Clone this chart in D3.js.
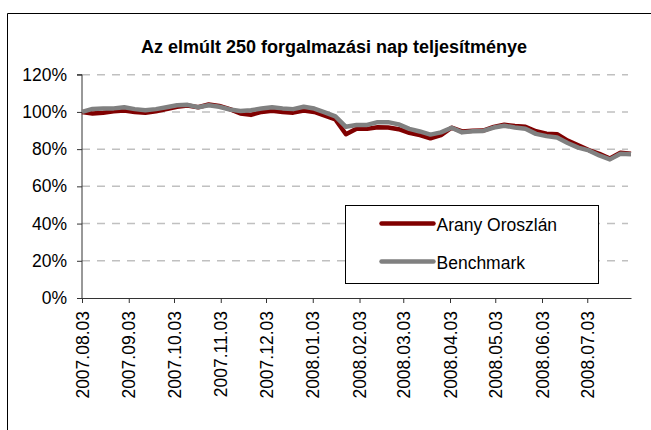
<!DOCTYPE html>
<html>
  <head>
    <meta charset="UTF-8">
    <title>Az elmúlt 250 forgalmazási nap teljesítménye</title>
    <script src="https://d3js.org/d3.v7.min.js"></script>
    <style>
      body { margin: 0; background: #fff; }
      text { font-family: "Liberation Sans", Arial, sans-serif; fill: #000; }
    </style>
  </head>

  <body>
    <div class="chart"></div>

    <script type="application/javascript">
      // weekly readings, first point on 2007.08.03
      const startDate = "2007-08-03";
      const arany = [100.0, 99.2, 99.6, 100.3, 100.8, 100.0, 99.6, 100.3, 101.5, 102.8,
                     103.4, 102.5, 104.0, 103.2, 101.5, 99.2, 98.4, 100.0, 100.6, 100.0,
                     99.6, 100.8, 100.0, 98.0, 96.0, 88.0, 90.9, 90.9, 91.8, 91.6,
                     90.7, 88.8, 87.5, 85.8, 87.5, 91.5, 89.5, 89.9, 90.0, 91.9,
                     93.1, 92.4, 92.0, 89.6, 88.3, 88.0, 84.6, 82.0, 79.5, 77.5,
                     75.0, 78.0, 77.5];
      const benchmark = [100.0, 101.6, 101.8, 101.9, 102.5, 101.5, 100.9, 101.5, 102.5, 103.6,
                         103.8, 102.5, 103.6, 102.8, 101.3, 100.5, 100.9, 101.8, 102.5, 101.9,
                         101.5, 102.8, 101.8, 99.8, 97.6, 92.0, 93.0, 93.0, 94.5, 94.5,
                         93.3, 90.9, 89.5, 87.8, 89.0, 91.5, 89.0, 89.6, 89.8, 91.6,
                         92.6, 91.6, 91.0, 88.2, 87.0, 86.2, 83.3, 80.8, 79.3, 76.6,
                         74.5, 77.5, 77.3];
      const tickLabels = ["2007.08.03", "2007.09.03", "2007.10.03", "2007.11.03", "2007.12.03",
                          "2008.01.03", "2008.02.03", "2008.03.03", "2008.04.03", "2008.05.03",
                          "2008.06.03", "2008.07.03"];
      const yTicks = [0, 20, 40, 60, 80, 100, 120];
      const seriesNames = ["Arany Oroszlán", "Benchmark"];
      const seriesColors = ["#800000", "#808080"];

      const width = 651, height = 430;
      const plot = {left: 82, right: 631, top: 74.7, bottom: 298};

      const parseIso = d3.timeParse("%Y-%m-%d");
      const parseLabel = d3.timeParse("%Y.%m.%d");
      const start = parseIso(startDate);
      const dates = arany.map((_, i) => d3.timeDay.offset(start, 7 * i));

      const svg = d3.select(".chart").append("svg")
              .attr("width", width)
              .attr("height", height);

      // outer chart frame (only top and left edges fall inside the picture)
      svg.append("path")
              .attr("d", `M7.5,${height}V13.5H${width}`)
              .attr("fill", "none")
              .attr("stroke", "#000")
              .attr("stroke-width", 1);

      const x = d3.scaleTime()
              .domain([start, dates[dates.length - 1]])
              .range([plot.left, plot.right]);
      const y = d3.scaleLinear()
              .domain([0, 120])
              .range([plot.bottom, plot.top]);

      // gridlines
      svg.append("g")
              .selectAll("line")
              .data(yTicks.filter(d => d > 0))
              .join("line")
              .attr("x1", plot.left)
              .attr("x2", plot.right - 3)
              .attr("y1", d => y(d))
              .attr("y2", d => y(d))
              .attr("stroke", "#c0c0c0")
              .attr("stroke-width", 1.5)
              .attr("stroke-dasharray", "8,7");

      // y axis
      const yAxis = d3.axisLeft(y)
              .tickValues(yTicks)
              .tickFormat(d => d + "%")
              .tickSize(5)
              .tickPadding(10);
      const yg = svg.append("g")
              .attr("transform", `translate(${plot.left},0)`)
              .call(yAxis);
      yg.select(".domain").attr("d", `M-5,${plot.top}H0V${plot.bottom}`);

      // x axis
      const xAxis = d3.axisBottom(x)
              .tickValues(tickLabels.map(parseLabel))
              .tickFormat(d3.timeFormat("%Y.%m.%d"))
              .tickSize(5)
              .tickSizeOuter(0);
      const xg = svg.append("g")
              .attr("transform", `translate(0,${plot.bottom})`)
              .call(xAxis);
      xg.selectAll("text")
              .attr("transform", "rotate(-90)")
              .attr("text-anchor", "end")
              .attr("x", -13)
              .attr("y", 0)
              .attr("dy", "0.35em");

      svg.selectAll(".domain, .tick line").attr("stroke", "#333");
      svg.selectAll(".tick text")
              .attr("font-size", "17.5px")
              .attr("font-family", "'Liberation Sans', Arial, sans-serif")
              .attr("fill", "#000");

      // series
      const line = d3.line()
              .x((d, i) => x(dates[i]))
              .y(d => y(d));
      [arany, benchmark].forEach((values, k) => {
        svg.append("path")
                .datum(values)
                .attr("d", line)
                .attr("fill", "none")
                .attr("stroke", seriesColors[k])
                .attr("stroke-width", 4.5)
                .attr("stroke-linejoin", "round");
      });

      // title
      svg.append("text")
              .attr("x", 334)
              .attr("y", 53)
              .attr("text-anchor", "middle")
              .attr("font-size", "18px")
              .attr("font-weight", "bold")
              .text("Az elmúlt 250 forgalmazási nap teljesítménye");

      // legend
      const legend = svg.append("g").attr("transform", "translate(345.5,205.5)");
      legend.append("rect")
              .attr("width", 253)
              .attr("height", 78)
              .attr("fill", "#fff")
              .attr("stroke", "#000");
      seriesNames.forEach((name, k) => {
        const ly = 18 + k * 38;
        legend.append("line")
                .attr("x1", 36).attr("x2", 88)
                .attr("y1", ly).attr("y2", ly)
                .attr("stroke", seriesColors[k])
                .attr("stroke-width", 4.5)
                .attr("stroke-linecap", "round");
        legend.append("text")
                .attr("x", 91)
                .attr("y", ly + 1)
                .attr("dy", "0.35em")
                .attr("font-size", "17.5px")
                .text(name);
      });
    </script>
  </body>

</html>
